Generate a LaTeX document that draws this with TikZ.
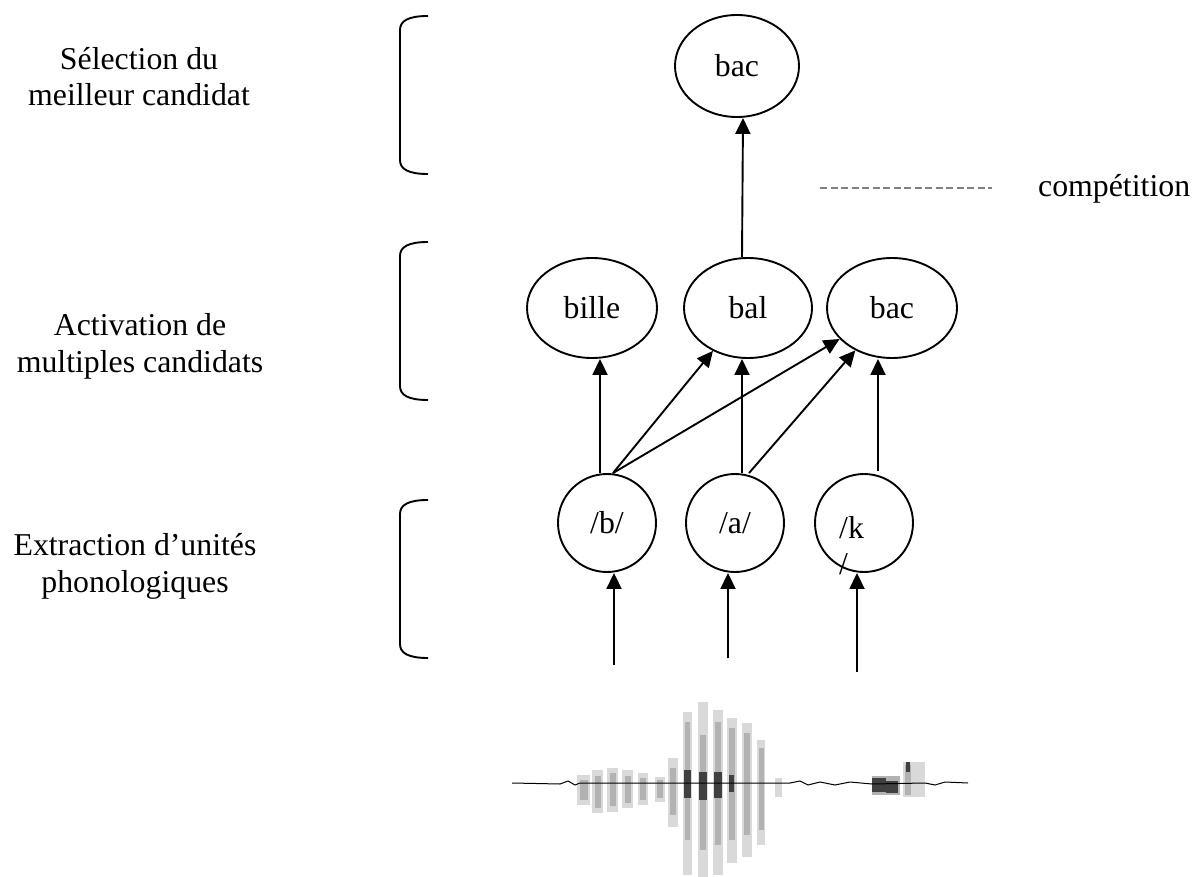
\documentclass[tikz,border=0pt]{standalone}
\usepackage{fontspec}
\setmainfont{Liberation Serif}
\usetikzlibrary{arrows.meta,shapes.geometric}
\begin{document}
\begin{tikzpicture}[x=1pt,y=-1pt,
  every node/.style={font=\fontsize{31.8}{36.5}\selectfont},
  word/.style={draw, ellipse, line width=1.9pt, inner sep=0pt, minimum width=130pt, minimum height=100pt},
  phon/.style={draw, circle, line width=1.9pt, inner sep=0pt, minimum size=98pt},
  arr/.style={line width=1.9pt, -{Triangle[length=16pt,width=15pt]}},
  bracket/.style={line width=1.9pt},
  lab/.style={align=center, anchor=base},
  legend/.style={black!50, line width=2.5pt, dash pattern=on 7pt off 3.5pt}]
\useasboundingbox (0,0) rectangle (1196,877);

% labels (anchor = baseline of the last line)
\node[lab] (l1) at (139,106) {Sélection du\\meilleur candidat};
\node[lab] (l2) at (140,372) {Activation de\\multiples candidats};
\node[lab] (l3) at (135,592) {Extraction d’unités\\phonologiques};

% brackets
\draw[bracket] (428,16) .. controls (408,16) and (400,21) .. (400,30) -- (400,160) .. controls (400,169) and (408,174) .. (428,174);
\draw[bracket] (428,242) .. controls (408,242) and (400,247) .. (400,256) -- (400,386) .. controls (400,395) and (408,400) .. (428,400);
\draw[bracket] (428,500) .. controls (408,500) and (400,505) .. (400,514) -- (400,644) .. controls (400,653) and (408,658) .. (428,658);

% nodes
\node[word, minimum width=124pt, minimum height=102pt] (top) at (737,66) {bac};
\node[word] (bille) at (592,308) {bille};
\node[word, minimum width=128pt] (bal) at (748,308) {bal};
\node[word] (bac) at (892,308) {bac};
\node[phon] (b) at (607,523) {/b/};
\node[phon] (a) at (735,523) {/a/};
\node[phon] (k) at (864,523) {};
\node[align=left, anchor=north west, inner sep=0pt] (kt) at (839,516) {/k\\/};

% legend
\coordinate (d1) at (820,188);
\coordinate (d2) at (992,188);
\draw[legend] (d1) -- (d2);
\node[anchor=base west, inner sep=0pt] (comp) at (1038,197) {compétition};

% connectors
\draw[arr] ([xshift=-6pt]bal.north) -- ([xshift=6pt]top.south);
\draw[arr] ([xshift=-7pt]b.north) -- ([xshift=8pt]bille.south);
\draw[arr] ([xshift=6pt]b.north) -- (bal);
\draw[arr] ([xshift=6pt]b.north) -- (bac);
\draw[arr] ([xshift=7pt]a.north) -- ([xshift=-6pt]bal.south);
\draw[arr] ([xshift=14pt]a.north) -- (bac);
\draw[arr] ([xshift=14pt,yshift=2pt]k.north) -- ([xshift=-14pt]bac.south);

\coordinate (ib) at (614,665);
\coordinate (ia) at (728,658);
\coordinate (ik) at (857,672);
\draw[arr] (ib) -- (ib |- b.south);
\draw[arr] (ia) -- (ia |- a.south);
\draw[arr] (ik) -- (ik |- k.south);

% waveform
\foreach \p/\q/\s/\t in {577/590/775/805, 592/603/770/813, 607/618/768/812, 622/633/770/808, 638/648/773/805, 655/665/777/802, 668/678/758/827, 683/692/712/875, 698/708/702/877, 713/723/710/875, 727/737/718/863, 742/752/723/857, 757/765/740/845, 775/782/778/797, 903/925/762/797}
  \fill[gray!30] (\p,\s) rectangle (\q,\t);
\foreach \p/\q/\s/\t in {580/588/780/800, 595/601/776/808, 610/616/773/806, 625/631/776/803, 640/646/778/800, 657/663/780/798, 670/676/768/815, 685/690/722/840, 700/706/735/850, 715/721/722/845, 729/735/728/840, 744/750/733/835, 759/764/748/830, 905/911/765/795, 872/900/776/795}
  \fill[gray!60] (\p,\s) rectangle (\q,\t);
\foreach \p/\q/\s/\t in {684/691/770/798, 699/707/772/800, 714/722/772/798, 872/886/778/792, 886/898/781/793, 729/734/775/792, 906/910/762/772}
  \fill[black!75] (\p,\s) rectangle (\q,\t);
\draw[line width=1pt] (512,783) -- (560,784) -- (568,781) -- (575,785) -- (580,783) -- (790,783) -- (800,781) -- (808,785) -- (820,782) -- (835,785) -- (850,782) -- (872,784) -- (925,783) -- (935,785) -- (945,782) -- (968,783);
\end{tikzpicture}
\end{document}
